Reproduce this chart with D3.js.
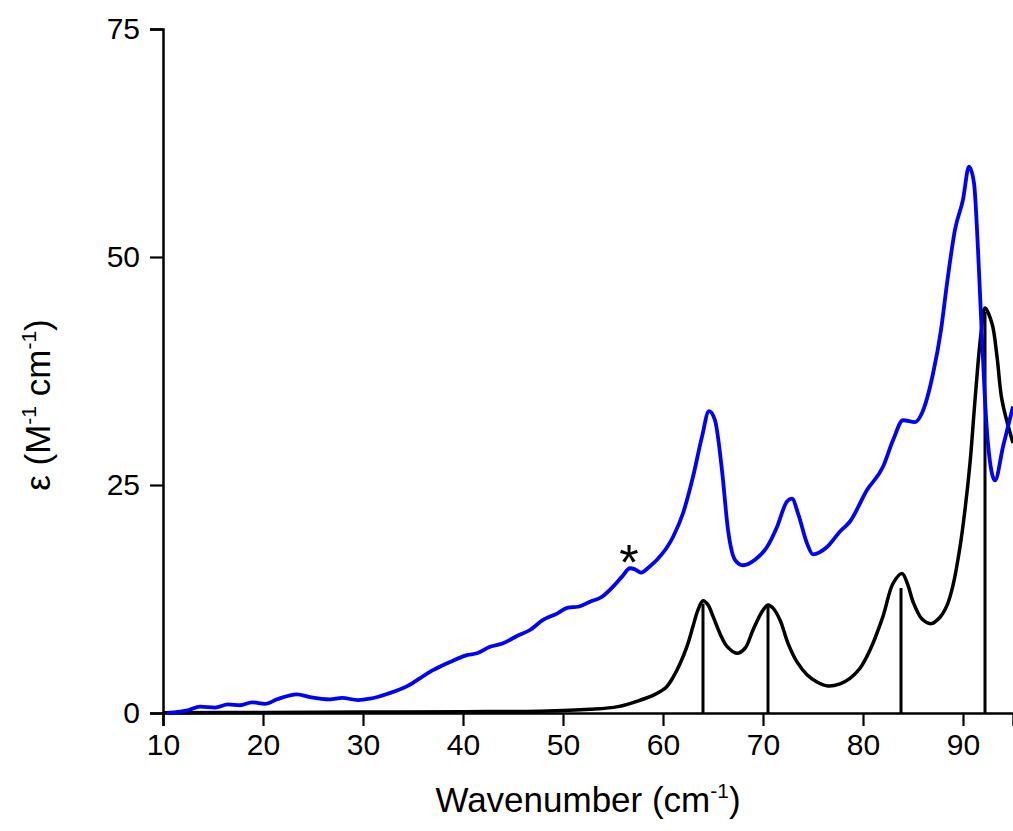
<!DOCTYPE html>
<html>
<head>
<meta charset="utf-8">
<script src="https://cdn.jsdelivr.net/npm/d3@7"></script>
<style>
  body { margin: 0; background: #fff; }
  text { font-family: "Liberation Sans", Arial, sans-serif; }
</style>
</head>
<body>
<div class="canvas"></div>
<script>
// experimental spectrum (blue)
var expX = [10.4, 11.7, 12.5, 13.7, 15.2, 16.5, 17.7, 18.9, 20.2, 21.4, 23.4, 24.7, 26.7, 27.9, 29.5, 30.7, 32.4, 34.7,
  35.4, 37.0, 38.7, 40.4, 41.4, 42.7, 44.0, 45.4, 46.7, 48.0, 49.4, 50.5, 51.5, 52.7, 53.9, 55.0, 55.9, 56.7, 57.2, 57.8,
  58.7, 59.4, 61.0, 62.0, 63.0, 63.9, 64.6, 65.2, 65.9, 66.5, 67.2, 68.0, 69.2, 70.4, 71.4, 72.4, 72.9, 73.5, 74.4, 75.0,
  76.4, 77.7, 78.7, 80.4, 82.0, 83.0, 84.0, 85.2, 85.9, 87.0, 87.8, 88.4, 89.2, 90.0, 90.6, 91.1, 91.5, 91.8, 92.2, 92.5,
  93.2, 94.0, 95.0]
var expY = [0.0, 0.15, 0.3, 0.7, 0.6, 0.95, 0.85, 1.17, 1.0, 1.5, 2.05, 1.75, 1.5, 1.65, 1.42, 1.57, 2.08, 3.1,
  3.6, 4.7, 5.6, 6.35, 6.55, 7.27, 7.64, 8.44, 9.1, 10.2, 10.9, 11.55, 11.65, 12.2, 12.75, 13.85, 14.95, 15.87, 15.75, 15.4,
  16.1, 16.8, 19.3, 21.9, 25.9, 30.3, 33.1, 32.1, 26.6, 20.1, 16.8, 16.2, 16.8, 18.2, 20.4, 23.2, 23.5, 21.9, 18.6, 17.4,
  18.2, 19.9, 21.0, 24.45, 27.0, 29.9, 32.1, 31.9, 32.9, 37.2, 42.0, 47.1, 53.0, 56.3, 59.9, 58.1, 50.8, 43.5, 34.3, 29.5,
  25.5, 29.2, 33.6]

// calculated spectrum (black)
var calcX = [10, 20, 30, 40, 47.7, 52.7, 55.5, 57.7, 59.3, 60.3, 61.0, 61.7, 62.4, 63.0, 63.5, 64.0, 64.5, 65.0, 65.7,
  66.4, 67.4, 68.2, 69.0, 69.9, 70.5, 71.0, 71.7, 72.5, 73.4, 74.4, 75.4, 76.5, 77.7, 78.7, 79.7, 80.7, 82.0, 83.0, 83.9,
  84.5, 85.0, 85.9, 86.8, 87.7, 88.4, 89.0, 89.7, 90.2, 90.7, 91.1, 91.5, 91.8, 92.2, 92.9, 93.4, 93.9, 95.0]
var calcY = [0.03, 0.06, 0.1, 0.15, 0.2, 0.4, 0.7, 1.4, 2.1, 2.8, 3.9, 5.4, 7.3, 9.5, 11.3, 12.3, 11.85, 10.6, 8.7,
  7.3, 6.55, 7.1, 9.1, 11.1, 11.85, 11.5, 10.2, 7.64, 5.6, 4.2, 3.4, 2.96, 3.2, 3.8, 4.9, 6.9, 10.6, 14.2, 15.3,
  14.0, 12.2, 10.3, 9.8, 10.5, 11.8, 14.0, 18.2, 22.3, 27.4, 32.9, 38.3, 41.6, 44.4, 42.7, 39.1, 34.3, 29.6]

// stick positions and heights
var stickX = [64.0, 70.5, 83.8, 92.2]
var stickY = [12.0, 11.7, 13.7, 44.0]

var xTicks = [10, 20, 30, 40, 50, 60, 70, 80, 90]
var yTicks = [0, 25, 50, 75]

var svg = d3.select(".canvas").append("svg").attr("width", 1013).attr("height", 831)

var x = d3.scaleLinear().domain([10, 95]).range([163, 1013])
var y = d3.scaleLinear().domain([0, 75]).range([713, 29])

// x axis
var xAxis = svg.append("g").attr("transform", "translate(0,713)")
xAxis.call(d3.axisBottom(x).tickValues(d3.range(15, 95, 10)).tickSize(7).tickFormat(""))
xAxis.call(d3.axisBottom(x).tickValues(xTicks).tickSize(13).tickPadding(8))
xAxis.selectAll("path.domain").attr("stroke-width", 2.5)
xAxis.selectAll(".tick line").attr("stroke-width", 2.2)
xAxis.selectAll("text").attr("font-size", 30).attr("fill", "#000")

// y axis
var yAxis = svg.append("g").attr("transform", "translate(163,0)")
yAxis.call(d3.axisLeft(y).tickValues([12.5, 37.5, 62.5]).tickSize(7).tickFormat(""))
yAxis.call(d3.axisLeft(y).tickValues(yTicks).tickSize(13).tickPadding(10))
yAxis.selectAll("path.domain").attr("stroke-width", 2.5)
yAxis.selectAll(".tick line").attr("stroke-width", 2.2)
yAxis.selectAll("text").attr("font-size", 30).attr("fill", "#000")

// sticks
stickX.forEach(function(sx, i) {
  svg.append("line")
    .attr("x1", x(sx)).attr("x2", x(sx))
    .attr("y1", y(0)).attr("y2", y(stickY[i]))
    .attr("stroke", "black").attr("stroke-width", 3)
})

// calculated curve
var calcLine = d3.line().curve(d3.curveCatmullRom.alpha(0.5))
svg.append("path")
  .attr("d", calcLine(calcX.map(function(d, i) { return [x(d), y(calcY[i])] })))
  .attr("fill", "none").attr("stroke", "black").attr("stroke-width", 3.5)

// experimental curve
var expLine = d3.line().curve(d3.curveMonotoneX)
svg.append("path")
  .attr("d", expLine(expX.map(function(d, i) { return [x(d), y(expY[i])] })))
  .attr("fill", "none").attr("stroke", "#0000ff").attr("stroke-width", 3.8)

// asterisk
svg.append("text")
  .attr("x", x(56.6)).attr("y", 580)
  .attr("text-anchor", "middle").attr("font-size", 50)
  .text("*")

// axis titles
var xt = svg.append("text")
  .attr("x", 588).attr("y", 812)
  .attr("text-anchor", "middle").attr("font-size", 35)
xt.append("tspan").text("Wavenumber (cm")
xt.append("tspan").attr("font-size", 21).attr("dy", -14).text("-1")
xt.append("tspan").attr("dy", 14).text(")")

var yt = svg.append("text")
  .attr("transform", "translate(50,405) rotate(-90)")
  .attr("text-anchor", "middle").attr("font-size", 35)
yt.append("tspan").text("\u03b5 (M")
yt.append("tspan").attr("font-size", 21).attr("dy", -14).text("-1")
yt.append("tspan").attr("dy", 14).text(" cm")
yt.append("tspan").attr("font-size", 21).attr("dy", -14).text("-1")
yt.append("tspan").attr("dy", 14).text(")")
</script>
</body>
</html>
